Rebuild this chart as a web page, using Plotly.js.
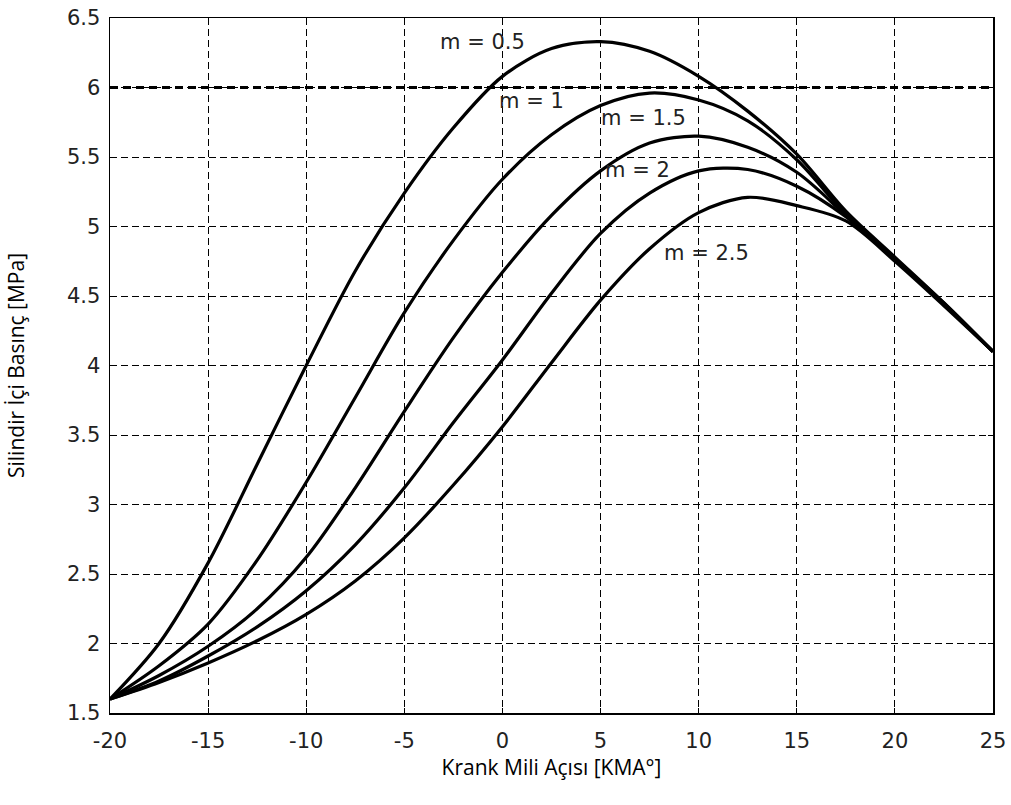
<!DOCTYPE html>
<html>
<head>
<meta charset="utf-8">
<script src="https://cdn.plot.ly/plotly-3.0.1.min.js"></script>
<style>html,body{margin:0;padding:0;background:#fff;}#chart{width:1011px;height:805px;}</style>
</head>
<body>
<div id="chart"></div>
<script>
// Crank angle [KMA°]
const crankAngle = [-20, -17.5, -15, -12.5, -10, -7.5, -5, -2.5, 0, 2.5, 5, 7.5, 10, 12.5, 15, 17.5, 20, 22.5, 25];
// Cylinder pressure [MPa] for each m
const p_m05 = [1.60, 2.00, 2.58, 3.29, 4.00, 4.68, 5.24, 5.71, 6.08, 6.28, 6.33, 6.26, 6.08, 5.83, 5.52, 5.11, 4.78, 4.45, 4.10];
const p_m10 = [1.60, 1.84, 2.14, 2.60, 3.16, 3.77, 4.38, 4.90, 5.34, 5.66, 5.87, 5.96, 5.91, 5.76, 5.48, 5.09, 4.77, 4.45, 4.10];
const p_m15 = [1.60, 1.77, 1.98, 2.25, 2.62, 3.12, 3.67, 4.20, 4.67, 5.08, 5.40, 5.60, 5.65, 5.57, 5.39, 5.08, 4.76, 4.44, 4.10];
const p_m20 = [1.60, 1.73, 1.91, 2.12, 2.38, 2.71, 3.12, 3.59, 4.04, 4.52, 4.95, 5.24, 5.40, 5.41, 5.29, 5.07, 4.76, 4.44, 4.10];
const p_m25 = [1.60, 1.72, 1.86, 2.02, 2.21, 2.45, 2.76, 3.14, 3.56, 4.02, 4.47, 4.84, 5.10, 5.21, 5.15, 5.04, 4.75, 4.43, 4.10];
const limitX = [-20, 25];
const limitY = [6, 6];

const labels = ['m = 0.5', 'm = 1', 'm = 1.5', 'm = 2', 'm = 2.5'];
const labelX = [-1.0, 1.5, 7.2, 6.9, 10.4];
const labelY = [6.33, 5.90, 5.78, 5.41, 4.81];

const xTicks = [-20, -15, -10, -5, 0, 5, 10, 15, 20, 25];
const yTicks = [1.5, 2, 2.5, 3, 3.5, 4, 4.5, 5, 5.5, 6, 6.5];

const series = [p_m05, p_m10, p_m15, p_m20, p_m25];
const traces = series.map((ys, i) => ({
  x: crankAngle, y: ys, type: 'scatter', mode: 'lines', name: labels[i],
  line: {color: '#000', width: 3.2, shape: 'spline', smoothing: 0.9}
}));
traces.push({
  x: limitX, y: limitY, type: 'scatter', mode: 'lines', name: 'limit',
  line: {color: '#000', width: 3, dash: '8px,5px'}
});

const tickFont = {family: 'DejaVu Sans, sans-serif', size: 21, color: '#222'};
const titleFont = {family: 'Open Sans, sans-serif', size: 21, color: '#000'};

const axisBase = {
  showline: true, mirror: 'ticks', linecolor: '#000', linewidth: 1.5,
  ticks: 'inside', ticklen: 5, tickcolor: '#000', tickwidth: 1,
  showgrid: true, gridcolor: '#000', gridwidth: 1, griddash: '7px,4px',
  zeroline: false, tickfont: tickFont
};

const layout = {
  width: 1011, height: 805,
  margin: {l: 110, r: 18, t: 18, b: 92},
  paper_bgcolor: '#fff', plot_bgcolor: '#fff',
  showlegend: false,
  xaxis: Object.assign({}, axisBase, {
    range: [-20, 25], tickvals: xTicks, ticktext: xTicks.map(String),
    ticklabelstandoff: 8,
    title: {text: 'Krank Mili Açısı [KMA°]', font: titleFont, standoff: 8}
  }),
  yaxis: Object.assign({}, axisBase, {
    range: [1.5, 6.5], tickvals: yTicks, ticktext: yTicks.map(String),
    ticklabelstandoff: 4,
    title: {text: 'Silindir İçi Basınç [MPa]', font: titleFont, standoff: 36}
  }),
  annotations: labels.map((t, i) => ({
    x: labelX[i], y: labelY[i], xref: 'x', yref: 'y', text: t, showarrow: false,
    font: {family: 'DejaVu Sans, sans-serif', size: 21, color: '#222'}
  }))
};

Plotly.newPlot('chart', traces, layout, {displayModeBar: false, staticPlot: true});
</script>
</body>
</html>
